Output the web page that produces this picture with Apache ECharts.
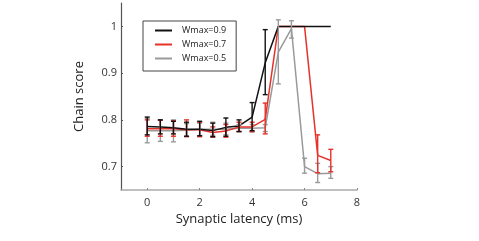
<!DOCTYPE html>
<html><head><meta charset="utf-8">
<script src="https://cdn.jsdelivr.net/npm/echarts@6/dist/echarts.min.js"></script>
<style>html,body{margin:0;padding:0;background:#fff}#c{width:479px;height:241px}</style>
</head><body><div id="c"></div>
<script>
var latency = [0,0.5,1,1.5,2,2.5,3,3.5,4,4.5,5,5.5,6,6.5,7];
var names = ['Wmax=0.9','Wmax=0.7','Wmax=0.5'];
var w09 = [0.786,0.785,0.783,0.780,0.780,0.777,0.784,0.787,0.806,0.922,1,1,1,1,1];
var w09lo = [0.768,0.770,0.770,0.765,0.766,0.764,0.765,0.775,0.777,0.854,1,1,1,1,1];
var w09hi = [0.806,0.800,0.797,0.795,0.797,0.793,0.804,0.800,0.837,0.993,1,1,1,1,1];
var w07 = [0.781,0.781,0.781,0.779,0.779,0.773,0.776,0.785,0.785,0.801,1,1,1,0.724,0.713];
var w07lo = [0.765,0.765,0.765,0.764,0.764,0.763,0.763,0.775,0.775,0.770,0.998,0.998,0.998,0.687,0.689];
var w07hi = [0.800,0.799,0.798,0.800,0.795,0.785,0.790,0.795,0.795,0.836,1.0,1.0,1.0,0.768,0.737];
var w05 = [0.777,0.777,0.777,0.778,0.780,0.780,0.780,0.782,0.782,0.783,0.945,0.995,0.700,0.685,0.686];
var w05lo = [0.751,0.754,0.753,0.765,0.766,0.767,0.768,0.775,0.774,0.775,0.877,0.975,0.686,0.666,0.675];
var w05hi = [0.803,0.800,0.800,0.792,0.793,0.795,0.793,0.790,0.790,0.790,1.014,1.012,0.718,0.707,0.700];
var colors = ['#111111','#e5322a','#9a9a9a'];
var xTicks = [0,2,4,6,8];
var yTicks = [0.7,0.8,0.9,1];

function pairs(ys){return latency.map(function(x,i){return [x,ys[i]];});}
function errData(lo,hi){return latency.map(function(x,i){return [x,lo[i],hi[i]];});}
function errSeries(lo,hi,color){
  return {type:'custom',silent:true,z:3,data:errData(lo,hi),
    renderItem:function(params,api){
      var x=api.value(0),l=api.value(1),h=api.value(2);
      if(h-l<0.004) return null;
      var p1=api.coord([x,l]),p2=api.coord([x,h]),w=2.5;
      var st={stroke:color,lineWidth:1.4};
      return {type:'group',children:[
        {type:'line',shape:{x1:p1[0],y1:p1[1],x2:p2[0],y2:p2[1]},style:st},
        {type:'line',shape:{x1:p1[0]-w,y1:p1[1],x2:p1[0]+w,y2:p1[1]},style:st},
        {type:'line',shape:{x1:p2[0]-w,y1:p2[1],x2:p2[0]+w,y2:p2[1]},style:st}
      ]};
    }};
}
function lineSeries(name,ys,color,z){
  return {type:'line',name:name,data:pairs(ys),showSymbol:false,symbol:'none',z:z,
    lineStyle:{color:color,width:1.5},itemStyle:{color:color}};
}
var chart = echarts.init(document.getElementById('c'),null,{renderer:'canvas'});
var font = 'Open Sans';
chart.setOption({
  animation:false,
  textStyle:{fontFamily:font},
  grid:{left:121,right:122,top:3,bottom:51},
  legend:{data:names,orient:'vertical',left:143,top:21,
    backgroundColor:'#fff',borderColor:'#444',borderWidth:1,padding:[5,10,8,12],
    itemGap:5,itemWidth:17,itemHeight:2,icon:'rect',
    textStyle:{fontSize:9,color:'#222',fontFamily:font,padding:[0,0,0,5]}},
  xAxis:{type:'value',min:-1,max:8,interval:1,
    name:'Synaptic latency (ms)',nameLocation:'middle',nameGap:22,
    nameTextStyle:{fontSize:13,color:'#222',fontFamily:font},
    axisLine:{show:true,onZero:false,lineStyle:{color:'#aaaaaa',width:1.5}},
    axisTick:{show:true,inside:true,length:2,lineStyle:{color:'#888'},
      customValues:xTicks},
    axisLabel:{fontSize:11,color:'#333',margin:7,customValues:xTicks,
      formatter:function(v){return String(v);}},
    splitLine:{show:false}},
  yAxis:{type:'value',min:0.65,max:1.05,
    name:'Chain score',nameLocation:'middle',nameGap:35,nameRotate:90,
    nameTextStyle:{fontSize:13,color:'#222',fontFamily:font},
    axisLine:{show:true,onZero:false,lineStyle:{color:'#555',width:1.2}},
    axisTick:{show:true,inside:true,length:2,lineStyle:{color:'#555'},customValues:yTicks},
    axisLabel:{fontSize:11,color:'#333',margin:4,customValues:yTicks,
      formatter:function(v){return String(+v.toFixed(2));}},
    splitLine:{show:false}},
  series:[
    lineSeries(names[2],w05,colors[2],2), errSeries(w05lo,w05hi,colors[2]),
    lineSeries(names[1],w07,colors[1],2), errSeries(w07lo,w07hi,colors[1]),
    lineSeries(names[0],w09,colors[0],2), errSeries(w09lo,w09hi,colors[0])
  ]
});
</script></body></html>
